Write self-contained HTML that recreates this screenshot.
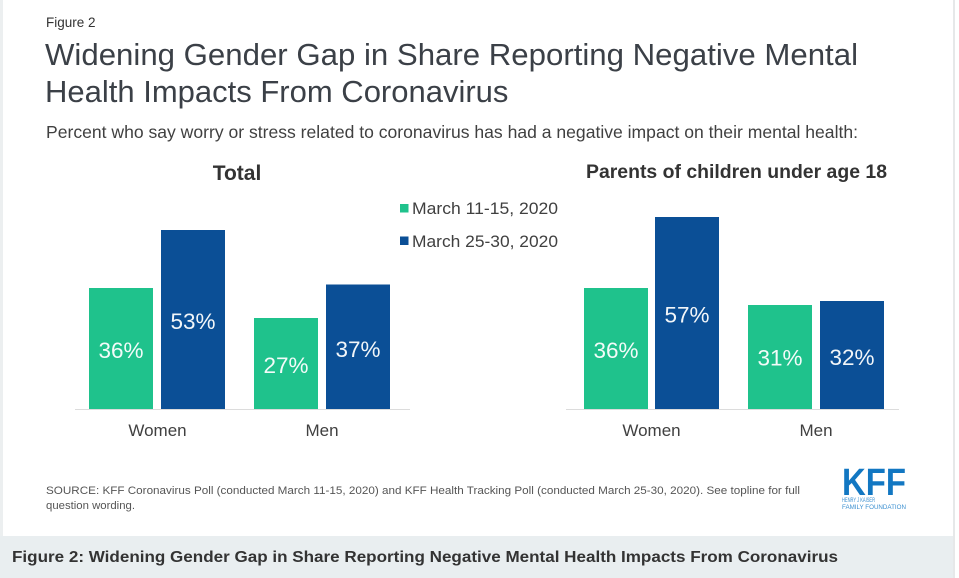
<!DOCTYPE html>
<html><head><meta charset="utf-8"><style>
html,body{margin:0;padding:0;background:#fff;width:959px;height:578px;overflow:hidden}
svg{display:block}
text{font-family:"Liberation Sans",Arial,sans-serif}
</style></head><body>
<svg width="959" height="578" viewBox="0 0 959 578" xmlns="http://www.w3.org/2000/svg">
<rect x="0" y="0" width="959" height="578" fill="#ffffff"/>
<rect x="0" y="0" width="3" height="578" fill="#eceff0"/>
<rect x="953" y="0" width="2" height="578" fill="#e6e8e9"/>
<rect x="0" y="536" width="953" height="42" fill="#e9eef0"/>

<text x="46" y="27" font-size="13.5" fill="#333">Figure 2</text>
<text x="45" y="65" font-size="31" fill="#3b4047" textLength="813" lengthAdjust="spacingAndGlyphs">Widening Gender Gap in Share Reporting Negative Mental</text>
<text x="45" y="102" font-size="31" fill="#3b4047">Health Impacts From Coronavirus</text>
<text x="46" y="138" font-size="17.5" fill="#404040" textLength="812" lengthAdjust="spacingAndGlyphs">Percent who say worry or stress related to coronavirus has had a negative impact on their mental health:</text>

<text x="237" y="180" font-size="21" font-weight="bold" fill="#333" text-anchor="middle">Total</text>
<text x="586" y="178" font-size="19" font-weight="bold" fill="#333" textLength="301" lengthAdjust="spacingAndGlyphs">Parents of children under age 18</text>

<!-- legend -->
<rect x="400" y="204" width="8.5" height="8.5" fill="#1fc28c"/>
<text x="412" y="214" font-size="17" fill="#404040" textLength="146" lengthAdjust="spacingAndGlyphs">March 11-15, 2020</text>
<rect x="400" y="236.5" width="8.5" height="8.5" fill="#0b4f96"/>
<text x="412" y="247" font-size="17" fill="#404040" textLength="146" lengthAdjust="spacingAndGlyphs">March 25-30, 2020</text>

<!-- baselines -->
<rect x="75" y="409" width="335" height="1" fill="#dcdcdc"/>
<rect x="566" y="409" width="333" height="1" fill="#dcdcdc"/>

<!-- left bars -->
<rect x="89" y="288" width="64" height="121" fill="#1fc28c"/>
<rect x="161" y="230" width="64" height="179" fill="#0b4f96"/>
<rect x="254" y="318" width="64" height="91" fill="#1fc28c"/>
<rect x="326" y="284.5" width="64" height="124.5" fill="#0b4f96"/>
<!-- right bars -->
<rect x="584" y="288" width="64" height="121" fill="#1fc28c"/>
<rect x="655" y="217" width="64" height="192" fill="#0b4f96"/>
<rect x="748" y="305" width="64" height="104" fill="#1fc28c"/>
<rect x="820" y="301" width="64" height="108" fill="#0b4f96"/>

<g font-size="22.5" fill="#ffffff" text-anchor="middle" opacity="0.95">
<text x="121" y="358">36%</text>
<text x="193" y="329">53%</text>
<text x="286" y="373">27%</text>
<text x="358" y="357">37%</text>
<text x="616" y="358">36%</text>
<text x="687" y="322.5">57%</text>
<text x="780" y="365.5">31%</text>
<text x="852" y="365">32%</text>
</g>

<g font-size="17" fill="#404040" text-anchor="middle">
<text x="157.5" y="436">Women</text>
<text x="322" y="436">Men</text>
<text x="651.5" y="436">Women</text>
<text x="816" y="436">Men</text>
</g>

<text x="46" y="494" font-size="11" fill="#555" textLength="754" lengthAdjust="spacingAndGlyphs">SOURCE: KFF Coronavirus Poll (conducted March 11-15, 2020) and KFF Health Tracking Poll (conducted March 25-30, 2020). See topline for full</text>
<text x="46" y="509" font-size="11" fill="#555" textLength="89" lengthAdjust="spacingAndGlyphs">question wording.</text>

<!-- KFF logo -->
<text x="842" y="495" font-size="38" font-weight="bold" fill="#1277c2" textLength="64" lengthAdjust="spacingAndGlyphs">KFF</text>
<text x="842" y="502" font-size="6" fill="#3a8fd0" textLength="33" lengthAdjust="spacingAndGlyphs">HENRY J KAISER</text>
<text x="842" y="509" font-size="6" fill="#3a8fd0" textLength="64" lengthAdjust="spacingAndGlyphs">FAMILY FOUNDATION</text>

<text x="12" y="562" font-size="16" font-weight="bold" fill="#333" textLength="826" lengthAdjust="spacingAndGlyphs">Figure 2: Widening Gender Gap in Share Reporting Negative Mental Health Impacts From Coronavirus</text>
</svg>
</body></html>
